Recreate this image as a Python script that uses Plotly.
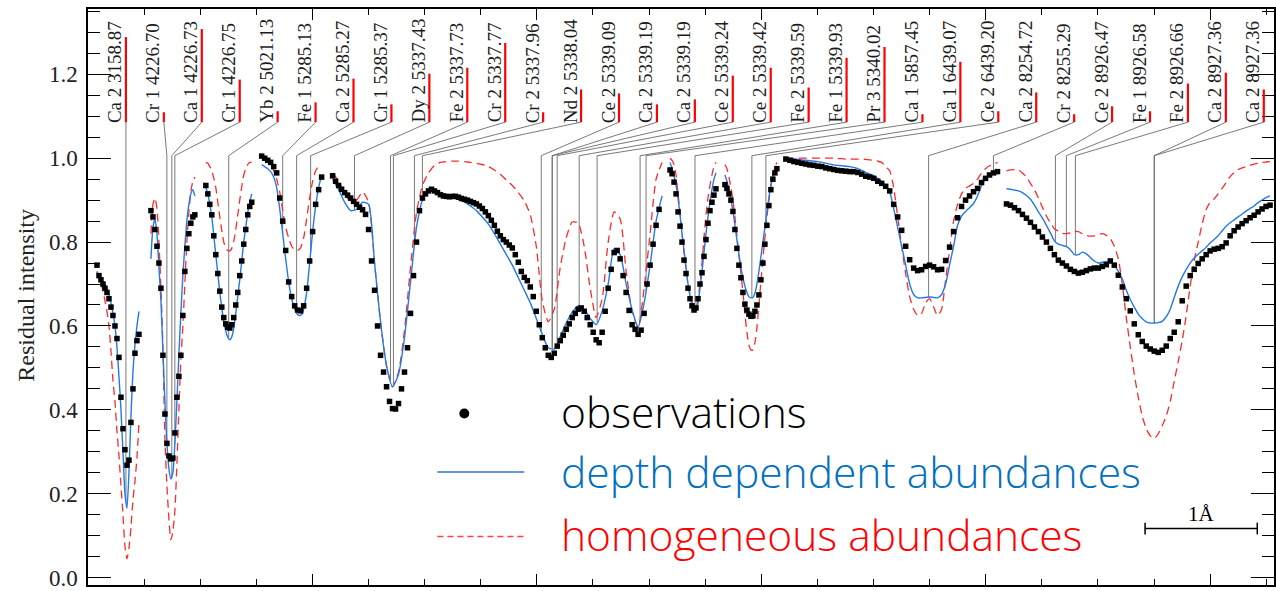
import numpy as np
import plotly.graph_objects as go

# ---------------------------------------------------------------------------
# Stitched wavelength axis (Angstrom from the left edge); nine spectral windows
# ---------------------------------------------------------------------------
obs_start = [0.080, 0.561, 1.050, 1.548, 2.180, 5.187, 5.676, 6.219, 8.185]
obs_end = [0.454, 0.952, 1.459, 2.082, 5.089, 5.596, 6.139, 8.105, 10.534]
model_start = [0.080, 0.561, 1.050, 1.548, 2.180, 5.187, 5.676, 6.219, 8.185]
model_end = [0.454, 0.952, 1.459, 2.082, 5.116, 5.596, 6.139, 8.105, 10.534]

# observed residual intensities
obs_w1 = [0.745, 0.72, 0.71, 0.70, 0.69, 0.68, 0.665, 0.645, 0.625, 0.60, 0.57,
          0.525, 0.43, 0.355, 0.305, 0.268, 0.28, 0.37, 0.45, 0.535, 0.565, 0.58]
obs_w2 = [0.875, 0.86, 0.83, 0.79, 0.75, 0.69, 0.53, 0.39, 0.32, 0.29, 0.283, 0.285,
          0.345, 0.43, 0.48, 0.53, 0.625, 0.73, 0.785, 0.82, 0.845, 0.86, 0.865]
obs_w3 = [0.935, 0.915, 0.89, 0.865, 0.815, 0.77, 0.725, 0.683, 0.645, 0.62, 0.605, 0.597,
          0.595, 0.603, 0.62, 0.65, 0.68, 0.72, 0.755, 0.795, 0.83, 0.865, 0.885, 0.895]
obs_w4 = [1.005, 1.0, 0.995, 0.99, 0.98, 0.965, 0.905, 0.85, 0.78, 0.705, 0.67,
          0.648, 0.638, 0.636, 0.648, 0.69, 0.755, 0.825, 0.89, 0.925, 0.955]
obs_w5 = [0.958, 0.945, 0.935, 0.926, 0.918, 0.912, 0.905, 0.897, 0.89, 0.883,
          0.877, 0.866, 0.83, 0.755, 0.685, 0.60, 0.53, 0.49, 0.455, 0.42,
          0.403, 0.402, 0.415, 0.45, 0.49, 0.548, 0.63, 0.72, 0.80, 0.875,
          0.905, 0.915, 0.922, 0.926, 0.922, 0.918, 0.913, 0.91, 0.909, 0.908,
          0.909, 0.909, 0.907, 0.904, 0.902, 0.90, 0.897, 0.894, 0.891, 0.886,
          0.88, 0.872, 0.863, 0.852, 0.84, 0.826, 0.815, 0.806, 0.80, 0.793,
          0.786, 0.77, 0.752, 0.73, 0.716, 0.708, 0.693, 0.67, 0.635, 0.603,
          0.572, 0.548, 0.53, 0.525, 0.535, 0.552, 0.565, 0.578, 0.592, 0.605,
          0.62, 0.63, 0.64, 0.643, 0.635, 0.62, 0.603, 0.585, 0.567, 0.56,
          0.585, 0.635, 0.69, 0.735, 0.775, 0.78, 0.76, 0.72, 0.68, 0.637,
          0.603, 0.592, 0.58, 0.59, 0.63, 0.70, 0.745, 0.795, 0.84, 0.878]
obs_w6 = [0.972, 0.963, 0.943, 0.915, 0.872, 0.838, 0.80, 0.757, 0.725, 0.69, 0.665, 0.648,
          0.638, 0.643, 0.665, 0.70, 0.727, 0.766, 0.806, 0.845, 0.875, 0.895, 0.912, 0.927]
obs_w7 = [0.937, 0.928, 0.915, 0.90, 0.873, 0.83, 0.785, 0.745, 0.715, 0.68, 0.652, 0.638,
          0.628, 0.623, 0.624, 0.635, 0.65, 0.674, 0.71, 0.75, 0.795, 0.84, 0.887, 0.925,
          0.95, 0.965, 0.975]
obs_w8 = [0.998, 0.995, 0.992, 0.99, 0.988, 0.986, 0.984, 0.983, 0.981, 0.98,
          0.977, 0.975, 0.973, 0.971, 0.97, 0.969, 0.968, 0.968, 0.966, 0.962,
          0.957, 0.955, 0.952, 0.945, 0.94, 0.933, 0.922, 0.89, 0.86, 0.828,
          0.79, 0.758, 0.738, 0.732, 0.734, 0.742, 0.745, 0.741, 0.734, 0.735,
          0.756, 0.788, 0.825, 0.858, 0.885, 0.90, 0.91, 0.92, 0.928, 0.942,
          0.952, 0.96, 0.965, 0.968]
obs_w9 = [0.891, 0.888, 0.882, 0.875, 0.866, 0.857, 0.847, 0.836, 0.825, 0.812,
          0.80, 0.785, 0.77, 0.757, 0.75, 0.743, 0.735, 0.73, 0.726, 0.728,
          0.732, 0.736, 0.738, 0.738, 0.742, 0.746, 0.755, 0.745, 0.721, 0.693,
          0.665, 0.636, 0.605, 0.579, 0.563, 0.552, 0.545, 0.54, 0.537, 0.542,
          0.552, 0.57, 0.585, 0.61, 0.66, 0.695, 0.72, 0.735, 0.749, 0.76,
          0.77, 0.779, 0.783, 0.785, 0.789, 0.798, 0.815, 0.827, 0.836, 0.844,
          0.851, 0.858, 0.864, 0.872, 0.879, 0.885, 0.888]

# synthetic spectrum, depth dependent abundances
depth_w1 = [0.73, 0.72, 0.712, 0.705, 0.70, 0.688, 0.675, 0.655, 0.63, 0.60, 0.55,
            0.48, 0.40, 0.30, 0.20, 0.165, 0.25, 0.385, 0.49, 0.555, 0.60, 0.635]
depth_w2 = [0.76, 0.835, 0.855, 0.82, 0.74, 0.66, 0.54, 0.42, 0.32, 0.26, 0.235, 0.25,
            0.32, 0.42, 0.53, 0.63, 0.72, 0.79, 0.85, 0.89, 0.915, 0.925, 0.91]
depth_w3 = [0.93, 0.915, 0.89, 0.86, 0.815, 0.77, 0.725, 0.68, 0.643, 0.61, 0.588, 0.573,
            0.567, 0.574, 0.595, 0.63, 0.67, 0.71, 0.755, 0.80, 0.835, 0.87, 0.895, 0.915]
depth_w4 = [0.985, 0.98, 0.975, 0.968, 0.955, 0.93, 0.88, 0.82, 0.76, 0.705, 0.665,
            0.64, 0.627, 0.625, 0.64, 0.68, 0.75, 0.825, 0.885, 0.93, 0.96]
depth_w5 = [0.95, 0.925, 0.895, 0.875, 0.878, 0.895, 0.89, 0.75, 0.61, 0.505,
            0.455, 0.485, 0.572, 0.705, 0.835, 0.90, 0.92, 0.922, 0.918, 0.912,
            0.908, 0.903, 0.896, 0.886, 0.875, 0.86, 0.843, 0.82, 0.795, 0.77,
            0.745, 0.715, 0.685, 0.655, 0.618, 0.58, 0.548, 0.545, 0.575, 0.607,
            0.633, 0.648, 0.64, 0.618, 0.603, 0.636, 0.70, 0.785, 0.77, 0.70,
            0.638, 0.597, 0.655, 0.745, 0.85, 0.91]
depth_w6 = [0.99, 0.975, 0.957, 0.935, 0.905, 0.865, 0.82, 0.78, 0.74, 0.70, 0.672, 0.65,
            0.638, 0.638, 0.655, 0.69, 0.73, 0.775, 0.82, 0.86, 0.895, 0.925, 0.95, 0.965]
depth_w7 = [0.96, 0.945, 0.925, 0.90, 0.875, 0.84, 0.805, 0.77, 0.74, 0.715, 0.695, 0.68,
            0.67, 0.667, 0.668, 0.678, 0.70, 0.73, 0.765, 0.80, 0.835, 0.87, 0.905, 0.935,
            0.955, 0.97, 0.98]
depth_w8 = [1.0, 0.999, 0.998, 0.997, 0.996, 0.995, 0.994, 0.993, 0.992, 0.99,
            0.988, 0.986, 0.984, 0.983, 0.982, 0.981, 0.98, 0.978, 0.975, 0.971,
            0.966, 0.962, 0.958, 0.952, 0.944, 0.935, 0.92, 0.88, 0.835, 0.79,
            0.745, 0.70, 0.675, 0.667, 0.667, 0.668, 0.669, 0.668, 0.667, 0.675,
            0.70, 0.745, 0.79, 0.84, 0.862, 0.873, 0.882, 0.892, 0.91, 0.935,
            0.95, 0.96, 0.968, 0.973]
depth_w9 = [0.927, 0.926, 0.924, 0.922, 0.918, 0.911, 0.902, 0.888, 0.872, 0.857,
            0.84, 0.822, 0.803, 0.795, 0.792, 0.789, 0.782, 0.77, 0.77, 0.776,
            0.772, 0.763, 0.755, 0.75, 0.752, 0.754, 0.752, 0.745, 0.73, 0.712,
            0.685, 0.663, 0.645, 0.628, 0.617, 0.61, 0.607, 0.607, 0.608, 0.611,
            0.622, 0.64, 0.668, 0.695, 0.717, 0.735, 0.75, 0.762, 0.771, 0.779,
            0.788, 0.798, 0.806, 0.815, 0.827, 0.838, 0.846, 0.853, 0.86, 0.867,
            0.874, 0.88, 0.886, 0.894, 0.90, 0.906, 0.91]

# synthetic spectrum, homogeneous abundances
homog_w1 = [0.73, 0.715, 0.70, 0.685, 0.66, 0.635, 0.60, 0.54, 0.47, 0.42, 0.35,
            0.29, 0.22, 0.15, 0.075, 0.045, 0.07, 0.12, 0.185, 0.23, 0.285, 0.37]
homog_w2 = [0.82, 0.89, 0.905, 0.88, 0.80, 0.69, 0.55, 0.33, 0.22, 0.14, 0.09, 0.11,
            0.16, 0.27, 0.40, 0.52, 0.60, 0.70, 0.80, 0.87, 0.92, 0.945, 0.955]
homog_w3 = [0.99, 0.988, 0.98, 0.97, 0.952, 0.93, 0.895, 0.86, 0.828, 0.80, 0.786, 0.78,
            0.779, 0.785, 0.802, 0.83, 0.865, 0.90, 0.932, 0.96, 0.975, 0.985, 0.99, 0.99]
homog_w4 = [1.0, 0.998, 0.995, 0.985, 0.97, 0.95, 0.92, 0.875, 0.835, 0.81, 0.79,
            0.782, 0.78, 0.787, 0.81, 0.855, 0.905, 0.945, 0.97, 0.98, 0.978]
homog_w5 = [0.965, 0.945, 0.915, 0.898, 0.90, 0.92, 0.895, 0.75, 0.61, 0.505,
            0.455, 0.49, 0.59, 0.74, 0.87, 0.935, 0.965, 0.983, 0.99, 0.992,
            0.993, 0.993, 0.992, 0.99, 0.988, 0.985, 0.98, 0.972, 0.962, 0.948,
            0.935, 0.918, 0.898, 0.865, 0.79, 0.66, 0.61, 0.64, 0.74, 0.81,
            0.848, 0.845, 0.79, 0.69, 0.62, 0.665, 0.80, 0.872, 0.855, 0.73,
            0.635, 0.597, 0.69, 0.82, 0.95, 0.99]
homog_w6 = [1.0, 0.995, 0.985, 0.96, 0.915, 0.87, 0.82, 0.775, 0.735, 0.70, 0.675, 0.655,
            0.645, 0.645, 0.665, 0.70, 0.75, 0.81, 0.865, 0.905, 0.935, 0.96, 0.98, 0.99]
homog_w7 = [0.985, 0.975, 0.955, 0.93, 0.90, 0.86, 0.815, 0.77, 0.725, 0.68, 0.63, 0.585,
            0.555, 0.543, 0.543, 0.56, 0.595, 0.65, 0.705, 0.76, 0.81, 0.86, 0.90, 0.935,
            0.96, 0.978, 0.99]
homog_w8 = [1.0, 1.0, 1.0, 1.0, 1.0, 1.0, 1.0, 1.0, 1.0, 1.0,
            1.0, 1.0, 1.0, 0.999, 0.999, 0.998, 0.998, 0.998, 0.998, 0.998,
            0.997, 0.996, 0.995, 0.993, 0.99, 0.98, 0.97, 0.93, 0.86, 0.79,
            0.725, 0.67, 0.64, 0.625, 0.63, 0.655, 0.665, 0.645, 0.625, 0.64,
            0.71, 0.78, 0.85, 0.89, 0.915, 0.928, 0.934, 0.94, 0.95, 0.965,
            0.975, 0.982, 0.985, 0.99]
homog_w9 = [0.97, 0.972, 0.973, 0.972, 0.965, 0.955, 0.94, 0.925, 0.905, 0.883,
            0.862, 0.845, 0.832, 0.826, 0.821, 0.82, 0.822, 0.825, 0.825, 0.82,
            0.816, 0.814, 0.815, 0.818, 0.82, 0.816, 0.808, 0.79, 0.76, 0.70,
            0.62, 0.55, 0.485, 0.43, 0.385, 0.355, 0.338, 0.331, 0.343, 0.362,
            0.385, 0.42, 0.468, 0.515, 0.565, 0.625, 0.695, 0.755, 0.80, 0.843,
            0.878, 0.895, 0.903, 0.915, 0.928, 0.942, 0.956, 0.966, 0.973, 0.977,
            0.98, 0.983, 0.986, 0.988, 0.99, 0.991, 0.992]

# line identifications: label, position on the stitched axis, relative line depth
line_labels = ["Ca 2 3158.87", "Cr 1 4226.70", "Ca 1 4226.73", "Cr 1 4226.75",
               "Yb 2 5021.13", "Fe 1 5285.13", "Ca 2 5285.27", "Cr 1 5285.37",
               "Dy 2 5337.43", "Fe 2 5337.73", "Cr 2 5337.77", "Cr 2 5337.96",
               "Nd 2 5338.04", "Ce 2 5339.09", "Ca 2 5339.19", "Ca 2 5339.19",
               "Ce 2 5339.24", "Ce 2 5339.42", "Fe 2 5339.59", "Fe 1 5339.93",
               "Pr 3 5340.02", "Ca 1 5857.45", "Ca 1 6439.07", "Ce 2 6439.20",
               "Ca 2 8254.72", "Cr 2 8255.29", "Ce 2 8926.47", "Fe 1 8926.58",
               "Fe 2 8926.66", "Ca 2 8927.36", "Ca 2 8927.36"]
line_pos = [0.338, 0.703, 0.747, 0.774, 1.254, 1.735, 1.859, 1.984,
            2.375, 2.696, 2.722, 2.909, 2.980, 4.039, 4.137, 4.137,
            4.181, 4.377, 4.537, 4.920, 4.973, 5.409, 5.916, 6.041,
            7.491, 8.069, 8.621, 8.719, 8.799, 9.502, 9.502]
line_depth = [0.86, 0.10, 0.94, 0.43, 0.11, 0.20, 0.44, 0.18, 0.49, 0.55, 0.80,
              0.10, 0.33, 0.29, 0.18, 0.23, 0.47, 0.55, 0.35, 0.65, 0.76, 0.08,
              0.61, 0.11, 0.30, 0.08, 0.16, 0.11, 0.39, 0.50, 0.33]

y_tick_values = [0.0, 0.2, 0.4, 0.6, 0.8, 1.0, 1.2]

obs_sets = [obs_w1, obs_w2, obs_w3, obs_w4, obs_w5, obs_w6, obs_w7, obs_w8, obs_w9]
depth_sets = [depth_w1, depth_w2, depth_w3, depth_w4, depth_w5, depth_w6, depth_w7,
              depth_w8, depth_w9]
homog_sets = [homog_w1, homog_w2, homog_w3, homog_w4, homog_w5, homog_w6, homog_w7,
              homog_w8, homog_w9]


def stitch(sets, starts, ends):
    """Join the windows into one x/y pair, breaking the line between windows."""
    xs, ys = [], []
    for vals, a, b in zip(sets, starts, ends):
        xs.extend(np.linspace(a, b, len(vals)).tolist())
        ys.extend(vals)
        xs.append(None)
        ys.append(None)
    return xs, ys


obs_x, obs_y = stitch(obs_sets, obs_start, obs_end)
dep_x, dep_y = stitch(depth_sets, model_start, model_end)
hom_x, hom_y = stitch(homog_sets, model_start, model_end)

# continuous copy of the depth-dependent model, used to end the line markers on it
dx = np.array([v for v in dep_x if v is not None])
dy = np.array([v for v in dep_y if v is not None])

SERIF = "Liberation Serif, Times New Roman, serif"
SANS = "Open Sans, Noto Sans, sans-serif"
X_MAX = 10.569
Y_MIN, Y_MAX = -0.0177, 1.3558
LABEL_BASE = 1.086     # bottom of the identification labels
KNEE = 1.006           # where the slanted connectors turn vertical
BAR_SCALE = 0.236      # data units of a full-depth marker bar
LABEL_STEP = 0.338     # spacing of the label columns

fig = go.Figure()

# connectors from the labels down to each line position
cx, cy = [], []
for i, pos in enumerate(line_pos):
    bx = LABEL_STEP * (i + 1)
    bottom = float(np.interp(pos, dx, dy))
    cx += [bx, pos, pos, None]
    cy += [LABEL_BASE, KNEE, bottom, None]
fig.add_trace(go.Scatter(x=cx, y=cy, mode="lines", hoverinfo="skip",
                         line=dict(color="#6a6a6a", width=0.9), showlegend=False))

fig.add_trace(go.Scatter(x=hom_x, y=hom_y, mode="lines", name="homogeneous abundances",
                         line=dict(color="#ff2a2a", width=1.3, dash="8px,5px", shape="spline",
                                   smoothing=0.6),
                         showlegend=False))
fig.add_trace(go.Scatter(x=dep_x, y=dep_y, mode="lines", name="depth dependent abundances",
                         line=dict(color="#2479e8", width=1.4, shape="spline", smoothing=0.6),
                         showlegend=False))
fig.add_trace(go.Scatter(x=obs_x, y=obs_y, mode="markers", name="observations",
                         marker=dict(symbol="square", size=5.5, color="black",
                                     line=dict(width=0)),
                         showlegend=False))

shapes = []
annotations = []

# red depth bars and rotated identification labels
for i, (lab, dep) in enumerate(zip(line_labels, line_depth)):
    bx = LABEL_STEP * (i + 1)
    shapes.append(dict(type="line", xref="x", yref="y", x0=bx, x1=bx,
                       y0=LABEL_BASE, y1=LABEL_BASE + dep * BAR_SCALE,
                       line=dict(color="#ff0000", width=2.2)))
    annotations.append(dict(text=lab, x=bx - 0.095, y=LABEL_BASE - 0.004, xref="x", yref="y",
                            textangle=-90, xanchor="center", yanchor="bottom",
                            showarrow=False, borderpad=0,
                            font=dict(family=SERIF, size=19, color="#1c1c1c")))

# 1 Angstrom scale bar
sb0, sb1, sby = 9.42, 10.42, 0.117
shapes.append(dict(type="line", xref="x", yref="y", x0=sb0, x1=sb1, y0=sby, y1=sby,
                   line=dict(color="black", width=1.5)))
for xe in (sb0, sb1):
    shapes.append(dict(type="line", xref="x", yref="y", x0=xe, x1=xe,
                       y0=sby - 0.014, y1=sby + 0.014, line=dict(color="black", width=1.5)))
annotations.append(dict(text="1Å", x=(sb0 + sb1) / 2, y=sby + 0.001, xref="x", yref="y",
                        xanchor="center", yanchor="bottom", showarrow=False,
                        font=dict(family=SERIF, size=21, color="black")))

# legend drawn as a text block
shapes.append(dict(type="circle", xref="paper", yref="paper",
                   x0=0.3173 - 0.0042, x1=0.3173 + 0.0042, y0=0.2978 - 0.0086, y1=0.2978 + 0.0086,
                   fillcolor="black", line=dict(width=0)))
shapes.append(dict(type="line", xref="paper", yref="paper", x0=0.2946, x1=0.3678,
                   y0=0.1962, y1=0.1962, line=dict(color="#2e75d6", width=1.5)))
shapes.append(dict(type="line", xref="paper", yref="paper", x0=0.2946, x1=0.3678,
                   y0=0.0843, y1=0.0843, line=dict(color="#ff4040", width=1.5, dash="6px,4px")))
for txt, ty, col in (("observations", 0.3012, "black"),
                     ("depth dependent abundances", 0.1979, "#0070c0"),
                     ("homogeneous abundances", 0.0870, "#ff0000")):
    annotations.append(dict(text=txt, x=0.3973, y=ty, xref="paper", yref="paper",
                            xanchor="left", yanchor="middle", showarrow=False,
                            font=dict(family=SANS, size=42.5, color=col, weight=300)))

# y-axis title
annotations.append(dict(text="Residual intensity", x=-0.053, y=0.5026, xref="paper",
                        yref="paper", textangle=-90, showarrow=False,
                        xanchor="center", yanchor="middle",
                        font=dict(family=SERIF, size=24, color="#222")))

fig.update_layout(
    width=1276, height=591,
    margin=dict(l=88, r=0, t=9, b=1),
    paper_bgcolor="white", plot_bgcolor="white",
    shapes=shapes, annotations=annotations,
    showlegend=False,
    xaxis=dict(range=[0, X_MAX], showline=True, linecolor="black", linewidth=1.5,
               mirror="ticks", ticks="inside", tick0=0, dtick=2, ticklen=11,
               tickwidth=1.3, tickcolor="black", showticklabels=False,
               showgrid=False, zeroline=False,
               minor=dict(tick0=0, dtick=0.5, ticks="inside", ticklen=6, tickwidth=1.1,
                          tickcolor="black", showgrid=False)),
    yaxis=dict(range=[Y_MIN, Y_MAX], showline=True, linecolor="black", linewidth=1.5,
               mirror="ticks", ticks="inside", tickmode="array",
               tickvals=y_tick_values, ticktext=[f"{v:.1f}" for v in y_tick_values],
               ticklen=23, tickwidth=1.3, tickcolor="black",
               tickfont=dict(family=SERIF, size=23, color="#222"),
               ticklabelstandoff=4, ticklabeloverflow="allow",
               showgrid=False, zeroline=False,
               minor=dict(tick0=0, dtick=0.05, ticks="inside", ticklen=12, tickwidth=1.1,
                          tickcolor="black", showgrid=False)),
)

fig.write_html("out.html")
